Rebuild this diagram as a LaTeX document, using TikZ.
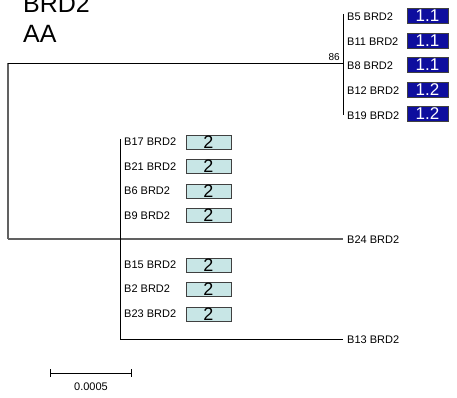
\documentclass[tikz,border=0pt]{standalone}
\usepackage{fontspec}
\setmainfont{Liberation Sans}
\usetikzlibrary{positioning}
\definecolor{boxblue}{RGB}{14,14,158}
\definecolor{boxcyan}{RGB}{200,230,230}

\begin{document}
\begin{tikzpicture}[x=1pt,y=-1pt,
		branch/.style={line width=0.9pt},
		rootbranch/.style={line width=1.3pt,black!62},
		leaf/.style={anchor=west,inner sep=0pt,font=\fontsize{11}{11}\selectfont},
		bluebox/.style={draw=black!75,fill=boxblue,text=white,minimum width=41pt,minimum height=15pt,inner sep=0pt,font=\fontsize{17}{17}\selectfont},
		cyanbox/.style={draw=black!75,fill=boxcyan,text=black,minimum width=45pt,minimum height=14pt,inner sep=0pt,font=\fontsize{18}{18}\selectfont}]
				\useasboundingbox (0,0) rectangle (457,398);
				% title
				\node[anchor=base west,inner sep=0pt,font=\fontsize{25}{25}\selectfont] (title) at (23,13) {BRD2};
				\node[anchor=base west,inner sep=0pt,font=\fontsize{25}{25}\selectfont] (sub) at (23,43) {AA};
				% branch points of the tree
				\coordinate (rootT) at (8,63);
				\coordinate (rootB) at (8,239);
				\coordinate (nA) at (343,63);
				\coordinate (nAtop) at (343,14);
				\coordinate (nAbot) at (343,115);
				\coordinate (tB24) at (343,239);
				\coordinate (nB) at (120,239);
				\coordinate (nBtop) at (120,139);
				\coordinate (nBbot) at (120,339);
				\coordinate (tB13) at (343,339);
				\draw[rootbranch] (rootT) -- (rootB);
				\draw[branch] (rootT) -- (nA);
				\draw[rootbranch] (rootB) -- (tB24);
				\draw[branch] (nAtop) -- (nAbot);
				\draw[branch] (nBtop) -- (nBbot);
				\draw[branch] (nBbot) -- (tB13);
				\node[anchor=south east,inner sep=0pt,font=\fontsize{10}{10}\selectfont] (boot) at (340,61) {86};
				% upper clade, type 1.x
				\node[leaf] (b5) at (347,17) {B5 BRD2};
				\node[leaf] (b11) at (347,42) {B11 BRD2};
				\node[leaf] (b8) at (347,66) {B8 BRD2};
				\node[leaf] (b12) at (347,91) {B12 BRD2};
				\node[leaf] (b19) at (347,116) {B19 BRD2};
				\node[bluebox] (b5box) at (427.5,16) {1.1};
				\node[bluebox] (b11box) at (427.5,40.5) {1.1};
				\node[bluebox] (b8box) at (427.5,65) {1.1};
				\node[bluebox] (b12box) at (427.5,89.5) {1.2};
				\node[bluebox] (b19box) at (427.5,114) {1.2};
				% lower clade, type 2
				\node[leaf] (b17) at (124,142) {B17 BRD2};
				\node[leaf] (b21) at (124,166.5) {B21 BRD2};
				\node[leaf] (b6) at (124,191) {B6 BRD2};
				\node[leaf] (b9) at (124,215.5) {B9 BRD2};
				\node[leaf] (b15) at (124,265) {B15 BRD2};
				\node[leaf] (b2) at (124,289) {B2 BRD2};
				\node[leaf] (b23) at (124,314) {B23 BRD2};
				\node[cyanbox] (b17box) at (208.5,142) {2};
				\node[cyanbox] (b21box) at (208.5,166.5) {2};
				\node[cyanbox] (b6box) at (208.5,191) {2};
				\node[cyanbox] (b9box) at (208.5,215.5) {2};
				\node[cyanbox] (b15box) at (208.5,265) {2};
				\node[cyanbox] (b2box) at (208.5,289) {2};
				\node[cyanbox] (b23box) at (208.5,314) {2};
				% the two long tips
				\node[leaf] (b24) at (347,240) {B24 BRD2};
				\node[leaf] (b13) at (347,340) {B13 BRD2};
				% scale bar
				\coordinate (barL) at (50,373);
				\coordinate (barR) at (132,373);
				\draw[branch,|-|] (barL) -- (barR);
				\node[inner sep=0pt,font=\fontsize{11}{11}\selectfont] (barlab) at (91,387) {0.0005};
			\end{tikzpicture}
\end{document}
